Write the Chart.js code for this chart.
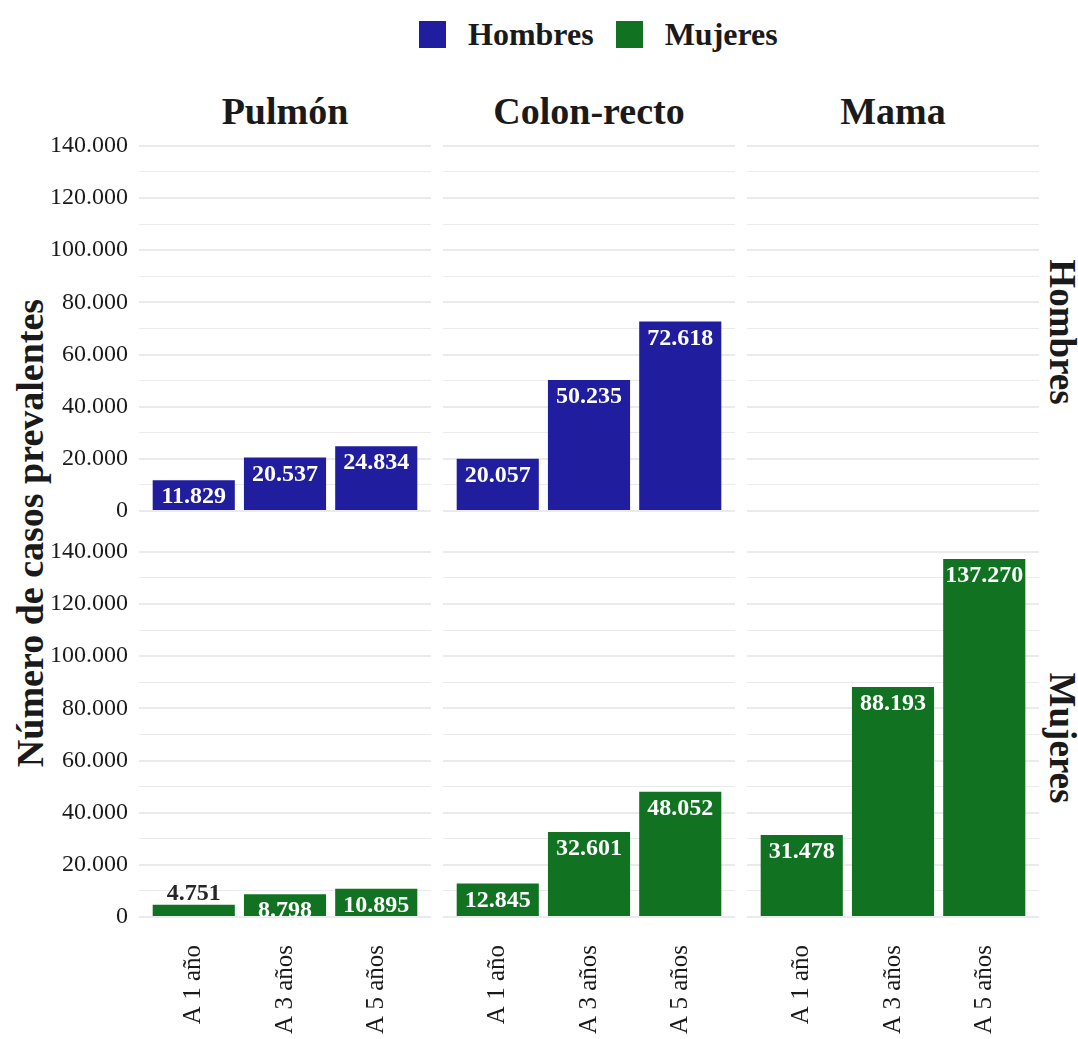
<!DOCTYPE html>
<html lang="es">
<head>
<meta charset="UTF-8">
<title>Casos prevalentes</title>
<script src="https://cdn.jsdelivr.net/npm/chart.js@4.4.1/dist/chart.umd.min.js"></script>
<style>
    body {
        margin: 0;
        width: 1078px;
        height: 1039px;
        background: #fff;
        font-family: "Liberation Serif", serif;
        color: #1a1a1a;
        position: relative;
        overflow: hidden;
    }
    .panel { position: absolute; }
    .lbl { position: absolute; white-space: nowrap; font-weight: bold; }
    .legend { position: absolute; top: 16px; left: 419px; display: flex; align-items: center; font-weight: bold; font-size: 32px; }
    .legend .sw { width: 27px; height: 27px; margin-right: 22px; }
    .legend span.txt { margin-right: 22px; }
</style>
</head>
<body>
<div class="legend">
    <div class="sw" style="background:#201d9f"></div><span class="txt">Hombres</span>
    <div class="sw" style="background:#117321"></div><span class="txt">Mujeres</span>
</div>

<div class="lbl" style="left:285px;top:111px;font-size:38px;transform:translate(-50%,-50%)">Pulmón</div>
<div class="lbl" style="left:589px;top:111px;font-size:38px;transform:translate(-50%,-50%)">Colon-recto</div>
<div class="lbl" style="left:893px;top:111px;font-size:38px;transform:translate(-50%,-50%)">Mama</div>

<div class="lbl" style="left:1062px;top:332px;font-size:37px;transform:translate(-50%,-50%) rotate(90deg)">Hombres</div>
<div class="lbl" style="left:1062px;top:738px;font-size:37px;transform:translate(-50%,-50%) rotate(90deg)">Mujeres</div>

<div class="lbl" style="left:30px;top:533px;font-size:38px;transform:translate(-50%,-50%) rotate(-90deg)">Número de casos prevalentes</div>

<div class="panel" style="left:50px;top:135px;width:381px;height:394px"><canvas id="c0"></canvas></div>
<div class="panel" style="left:443px;top:135px;width:292px;height:394px"><canvas id="c1"></canvas></div>
<div class="panel" style="left:747px;top:135px;width:292px;height:394px"><canvas id="c2"></canvas></div>
<div class="panel" style="left:50px;top:541px;width:381px;height:498px"><canvas id="c3"></canvas></div>
<div class="panel" style="left:443px;top:541px;width:292px;height:498px"><canvas id="c4"></canvas></div>
<div class="panel" style="left:747px;top:541px;width:292px;height:498px"><canvas id="c5"></canvas></div>

<script>
    // categories
    const periodos = ['A 1 año', 'A 3 años', 'A 5 años'];

    // Hombres
    const hombresPulmon = [11829, 20537, 24834];
    const hombresColon = [20057, 50235, 72618];
    const hombresMama = [null, null, null];

    // Mujeres
    const mujeresPulmon = [4751, 8798, 10895];
    const mujeresColon = [12845, 32601, 48052];
    const mujeresMama = [31478, 88193, 137270];

    // y grid: labelled every 20.000, minor lines in between
    const yTicks = [0, 10000, 20000, 30000, 40000, 50000, 60000, 70000,
                    80000, 90000, 100000, 110000, 120000, 130000, 140000];

    const colorHombres = '#201d9f';
    const colorMujeres = '#117321';

    const maxValue = 137270;
    const yMin = -0.05 * maxValue;
    const yMax = 1.05 * maxValue;

    const serif = '"Liberation Serif", serif';

    function fmt(v) {
        return String(Math.round(v)).replace(/\B(?=(\d{3})+(?!\d))/g, '.');
    }

    const barLabels = {
        id: 'barLabels',
        afterDatasetsDraw(chart) {
            const ctx = chart.ctx;
            const meta = chart.getDatasetMeta(0);
            const vals = chart.data.datasets[0].data;
            ctx.save();
            ctx.font = 'bold 24px ' + serif;
            ctx.textAlign = 'center';
            ctx.textBaseline = 'alphabetic';
            meta.data.forEach((bar, i) => {
                const v = vals[i].y;
                if (v == null) return;
                if (v < 6000) {
                    ctx.fillStyle = '#262626';
                    ctx.fillText(fmt(v), bar.x, bar.y - 5);
                } else {
                    ctx.fillStyle = '#ffffff';
                    ctx.fillText(fmt(v), bar.x, bar.y + 23);
                }
            });
            ctx.restore();
        }
    };

    function noPad(scale) {
        scale.paddingTop = 0;
        scale.paddingBottom = 0;
        scale.paddingLeft = 0;
        scale.paddingRight = 0;
    }

    function makeChart(id, values, color, showY, showX) {
        const ctx = document.getElementById(id).getContext('2d');
        return new Chart(ctx, {
            type: 'bar',
            data: {
                datasets: [{
                    data: values.map((v, i) => ({ x: i + 1, y: v })),
                    backgroundColor: color,
                    borderWidth: 0,
                    categoryPercentage: 0.9,
                    barPercentage: 1.0
                }]
            },
            options: {
                responsive: true,
                maintainAspectRatio: false,
                animation: false,
                layout: { padding: 0 },
                plugins: { legend: { display: false }, tooltip: { enabled: false } },
                scales: {
                    x: {
                        type: 'linear',
                        display: showX,
                        offset: false,
                        min: 0.4,
                        max: 3.6,
                        grid: { display: false },
                        border: { display: false },
                        afterBuildTicks: (scale) => {
                            scale.ticks = periodos.map((p, i) => ({ value: i + 1 }));
                        },
                        afterFit: (scale) => { scale.height = showX ? 104 : 0; noPad(scale); },
                        ticks: {
                            autoSkip: false,
                            maxRotation: 90,
                            minRotation: 90,
                            padding: 2,
                            color: '#1a1a1a',
                            font: { family: serif, size: 25 },
                            callback: (v) => periodos[v - 1]
                        }
                    },
                    y: {
                        min: yMin,
                        max: yMax,
                        border: { display: false },
                        grid: {
                            color: '#ebebeb',
                            drawTicks: false,
                            lineWidth: (c) => (c.tick && c.tick.value % 20000 === 0) ? 2 : 1
                        },
                        afterBuildTicks: (scale) => {
                            scale.ticks = yTicks.map(v => ({ value: v }));
                        },
                        afterFit: (scale) => { scale.width = showY ? 89 : 0; noPad(scale); },
                        ticks: {
                            display: showY,
                            autoSkip: false,
                            padding: 11,
                            color: '#1a1a1a',
                            font: { family: serif, size: 24 },
                            callback: (v) => (v % 20000 === 0 ? fmt(v) : '')
                        }
                    }
                }
            },
            plugins: [barLabels]
        });
    }

    makeChart('c0', hombresPulmon, colorHombres, true, false);
    makeChart('c1', hombresColon, colorHombres, false, false);
    makeChart('c2', hombresMama, colorHombres, false, false);
    makeChart('c3', mujeresPulmon, colorMujeres, true, true);
    makeChart('c4', mujeresColon, colorMujeres, false, true);
    makeChart('c5', mujeresMama, colorMujeres, false, true);
</script>
</body>
</html>
